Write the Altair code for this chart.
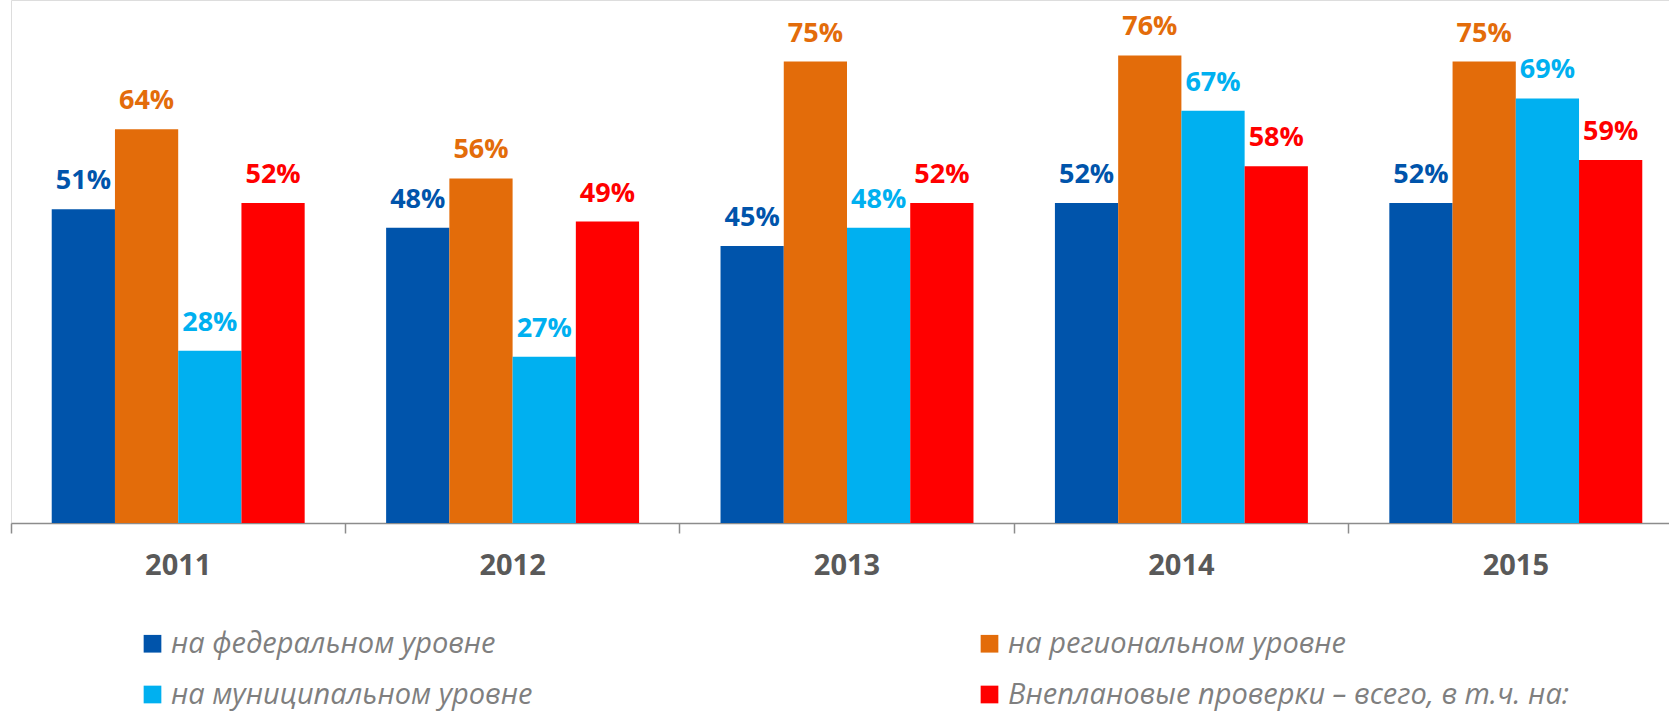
import altair as alt
import pandas as pd

years = ["2011", "2012", "2013", "2014", "2015"]
series = [
    "на федеральном уровне",
    "на региональном уровне",
    "на муниципальном уровне",
    "Внеплановые проверки – всего, в т.ч. на:",
]
colors = ["#0054AB", "#E36C0A", "#00B0F0", "#FF0000"]
federal = [51, 48, 45, 52, 52]
regional = [64, 56, 75, 76, 75]
municipal = [28, 27, 48, 67, 69]
total = [52, 49, 52, 58, 59]

rows = []
for vals, s in zip([federal, regional, municipal, total], series):
    for y, v in zip(years, vals):
        rows.append({"year": y, "series": s, "value": v, "label": f"{v}%"})
df = pd.DataFrame(rows)

# legend fills column by column: order the colour domain accordingly
legend_order = [series[0], series[2], series[1], series[3]]
legend_colors = [colors[0], colors[2], colors[1], colors[3]]

x = alt.X(
    "year:N",
    sort=years,
    scale=alt.Scale(range=[0, 1672], paddingInner=0, paddingOuter=0),
    axis=alt.Axis(
        title=None,
        labelAngle=0,
        bandPosition=0,
        labelFont="Open Sans",
        labelFontWeight="bold",
        labelFontSize=29,
        labelColor="#595959",
        labelBaseline="alphabetic",
        labelPadding=41,
        tickSize=10,
        tickColor="#8c8c8c",
        tickWidth=1.5,
        domainColor="#8c8c8c",
        domainWidth=1.5,
        grid=False,
    ),
)
xoff = alt.XOffset("series:N", sort=series, scale=alt.Scale(paddingOuter=0.644, paddingInner=0))
y = alt.Y("value:Q", scale=alt.Scale(domain=[0, 85]), axis=None)
color_scale = alt.Scale(domain=legend_order, range=legend_colors)
color = alt.Color(
    "series:N",
    scale=color_scale,
    legend=alt.Legend(
        title=None,
        orient="none",
        legendX=127,
        legendY=629,
        columns=2,
        columnPadding=442,
        rowPadding=21,
        symbolType="square",
        symbolSize=313,
        symbolStrokeWidth=0,
        labelFont="Open Sans",
        labelFontStyle="italic",
        labelFontSize=29,
        labelColor="#7f7f7f",
        labelOffset=4,
        labelLimit=800,
    ),
)

bars = alt.Chart(df).mark_bar(width={"band": 1}).encode(x=x, xOffset=xoff, y=y, color=color)
labels = alt.Chart(df).mark_text(
    font="Open Sans", fontWeight="bold", fontSize=27, baseline="alphabetic", dy=-20
).encode(
    x=x,
    xOffset=xoff,
    y=y,
    text="label:N",
    color=alt.Color("series:N", scale=color_scale, legend=None),
)

chart = (
    alt.layer(bars, labels)
    .properties(
        width=1658,
        height=523,
        autosize=alt.AutoSizeParams(type="none"),
        padding={"left": 11, "top": 0, "right": 0, "bottom": 189},
    )
    .configure_view(stroke=None)
    .configure(background="white")
)

chart.save("out.html", embed_options={"renderer": "svg", "actions": False})
